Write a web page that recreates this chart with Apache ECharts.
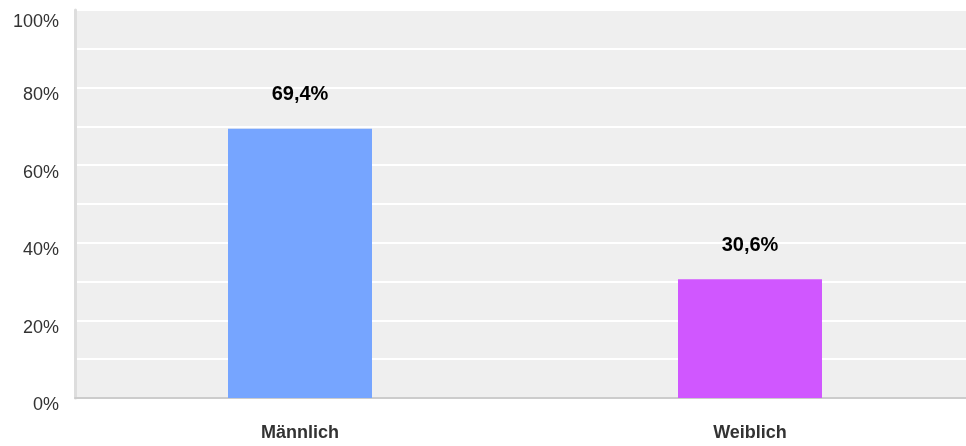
<!DOCTYPE html>
<html><head><meta charset="utf-8">
<script src="https://cdn.jsdelivr.net/npm/echarts@6/dist/echarts.min.js"></script>
<style>html,body{margin:0;padding:0;background:#fff;overflow:hidden;width:966px;height:446px}#c{width:975px;height:446px}</style>
</head><body><div id="c"></div>
<script>
const categories = ['Männlich', 'Weiblich'];
const values = [69.4, 30.6];
const barColors = ['#76a5ff', '#d057ff'];
const yTickLabels = {0:'0%',20:'20%',40:'40%',60:'60%',80:'80%',100:'100%'};

const chart = echarts.init(document.getElementById('c'), null, {renderer:'canvas'});
chart.setOption({
  animation: false,
  grid: {left: 75, right: 0, top: 10, bottom: 48, show: true, backgroundColor: '#efefef', borderWidth: 0},
  xAxis: {
    type: 'category', data: categories,
    axisLine: {lineStyle: {color: '#cccccc', width: 2}},
    axisTick: {show: false},
    axisLabel: {fontFamily: 'Liberation Sans, Arial', fontSize: 18, fontWeight: 'bold', color: '#333', margin: 26}
  },
  yAxis: {
    type: 'value', min: 0, max: 100, interval: 10,
    axisLine: {show: true, lineStyle: {color: '#dddddd', width: 3}},
    axisTick: {show: false},
    splitLine: {lineStyle: {color: '#ffffff', width: 2}},
    axisLabel: {
      margin: 16,
      formatter: v => yTickLabels[v] ? (v === 100 ? '{t|' + yTickLabels[v] + '}' : '{a|' + yTickLabels[v] + '}') : '',
      rich: {
        a: {fontFamily: 'Liberation Sans, Arial', fontSize: 18, color: '#333', padding: [15, 0, 0, 0]},
        t: {fontFamily: 'Liberation Sans, Arial', fontSize: 18, color: '#333', padding: [25, 0, 0, 0]}
      }
    }
  },
  series: [{
    type: 'bar', barWidth: '32%',
    data: values.map((v, i) => ({value: v, itemStyle: {color: barColors[i]}})),
    label: {
      show: true, position: 'top', distance: 24,
      fontFamily: 'Liberation Sans, Arial', fontSize: 20, fontWeight: 'bold', color: '#000',
      formatter: p => p.value.toFixed(1).replace('.', ',') + '%'
    }
  }]
});
</script></body></html>
